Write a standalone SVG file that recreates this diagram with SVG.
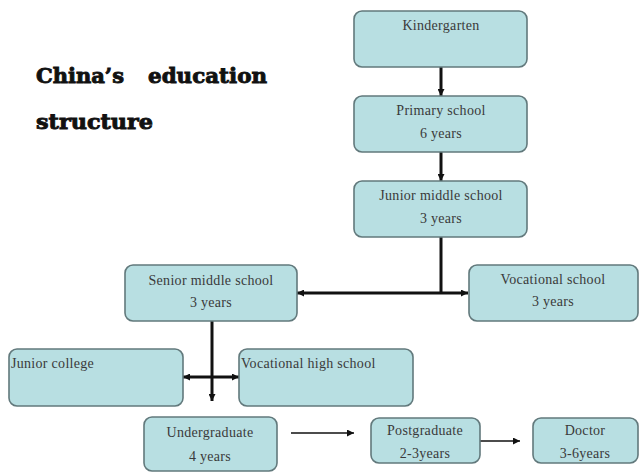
<svg xmlns="http://www.w3.org/2000/svg" width="639" height="472" viewBox="0 0 639 472">
<defs>
<style>
.box{fill:#b8dfe2;stroke:#62797c;stroke-width:1.6}
.t{font-family:"Liberation Serif","Times New Roman",serif;font-size:14px;fill:#3a3a3a;letter-spacing:0.3px}
.c{text-anchor:middle}
.title{font-family:"DejaVu Serif",serif;font-weight:bold;font-size:21px;fill:#111;stroke:#111;stroke-width:0.9px}
.thick{stroke:#111;stroke-width:3;fill:none}
.thin{stroke:#111;stroke-width:1.6;fill:none}
</style>
<marker id="ah" viewBox="0 0 10 10" refX="10" refY="5" markerWidth="8" markerHeight="7" markerUnits="userSpaceOnUse" orient="auto-start-reverse">
<path d="M0,0 L10,5 L0,10 z" fill="#111"/>
</marker>
</defs>
<rect width="639" height="472" fill="#fff"/>
<g id="title">
<text class="title" x="36" y="83">China’s</text>
<text class="title" x="148" y="83" textLength="119" lengthAdjust="spacingAndGlyphs">education</text>
<text class="title" x="36" y="129" textLength="117" lengthAdjust="spacingAndGlyphs">structure</text>
</g>
<g id="connectors">
<line class="thick" x1="441" y1="67" x2="441" y2="96" marker-end="url(#ah)"/>
<line class="thick" x1="441" y1="152" x2="441" y2="181" marker-end="url(#ah)"/>
<line class="thick" x1="441" y1="237" x2="441" y2="293"/>
<line class="thick" x1="297" y1="293" x2="468" y2="293" marker-start="url(#ah)" marker-end="url(#ah)"/>
<line class="thick" x1="212" y1="321" x2="212" y2="401" marker-end="url(#ah)"/>
<line class="thick" x1="183" y1="377" x2="239" y2="377" marker-start="url(#ah)" marker-end="url(#ah)"/>
<line class="thin" x1="291" y1="433" x2="354" y2="433" marker-end="url(#ah)"/>
<line class="thin" x1="480" y1="441" x2="520" y2="441" marker-end="url(#ah)"/>
</g>
<g id="kindergarten">
<rect class="box" x="354" y="11" width="173" height="56" rx="8"/>
<text class="t c" x="441" y="30">Kindergarten</text>
</g>
<g id="primary">
<rect class="box" x="354" y="96" width="173" height="56" rx="8"/>
<text class="t c" x="441" y="115">Primary school</text>
<text class="t c" x="441" y="138">6 years</text>
</g>
<g id="junior-middle">
<rect class="box" x="354" y="181" width="173" height="56" rx="8"/>
<text class="t c" x="441" y="200">Junior middle school</text>
<text class="t c" x="441" y="223">3 years</text>
</g>
<g id="senior-middle">
<rect class="box" x="125" y="265" width="172" height="56" rx="8"/>
<text class="t c" x="211" y="285">Senior middle school</text>
<text class="t c" x="211" y="307">3 years</text>
</g>
<g id="vocational-school">
<rect class="box" x="469" y="265" width="169" height="56" rx="8"/>
<text class="t c" x="553" y="284">Vocational school</text>
<text class="t c" x="553" y="306">3 years</text>
</g>
<g id="junior-college">
<rect class="box" x="9" y="349" width="174" height="57" rx="8"/>
<text class="t" x="11" y="368">Junior college</text>
</g>
<g id="vocational-high">
<rect class="box" x="239" y="349" width="174" height="57" rx="8"/>
<text class="t" x="241" y="368">Vocational high school</text>
</g>
<g id="undergraduate">
<rect class="box" x="144" y="417" width="133" height="54" rx="8"/>
<text class="t c" x="210" y="437">Undergraduate</text>
<text class="t c" x="210" y="461">4 years</text>
</g>
<g id="postgraduate">
<rect class="box" x="371" y="418" width="109" height="45" rx="8"/>
<text class="t c" x="425" y="435">Postgraduate</text>
<text class="t c" x="425" y="458">2-3years</text>
</g>
<g id="doctor">
<rect class="box" x="533" y="418" width="105" height="45" rx="8"/>
<text class="t c" x="585" y="435">Doctor</text>
<text class="t c" x="585" y="458">3-6years</text>
</g>
</svg>
